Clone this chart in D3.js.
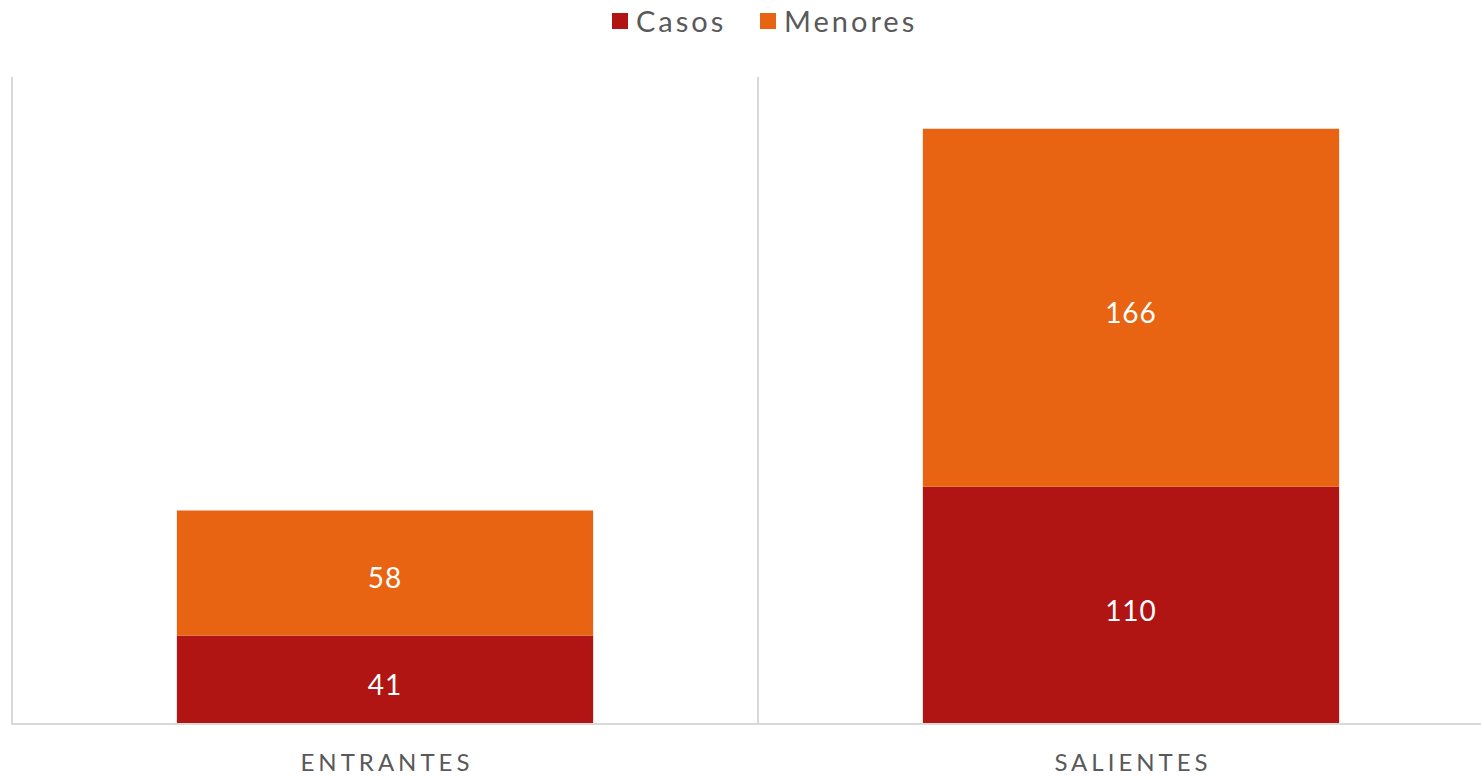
<!DOCTYPE html>
<html>
<head>
<meta charset="utf-8">
<script src="https://cdn.jsdelivr.net/npm/d3@7"></script>
<style>
  body { margin: 0; background: #fff; overflow: hidden; }
  text { font-family: Lato, "Open Sans", sans-serif; }
</style>
</head>
<body>
<div id="chart"></div>
<script>
let categories = ['ENTRANTES', 'SALIENTES'];
let seriesNames = ['Casos', 'Menores'];
let casos = [41, 110];
let menores = [58, 166];
let colors = ['#b01513', '#e86412'];

let svgWidth = 1481;
let svgHeight = 776;

let margin = { top: 77, right: -23, bottom: 52, left: 12 };
let width = svgWidth - margin.left - margin.right;
let height = svgHeight - margin.top - margin.bottom;

let svg = d3.select('#chart')
  .append('svg')
  .attr('width', svgWidth)
  .attr('height', svgHeight);

let chartGroup = svg.append('g')
  .attr('transform', `translate(${margin.left}, ${margin.top})`);

let rows = categories.map((c, i) => ({ cat: c, Casos: casos[i], Menores: menores[i] }));
let stacked = d3.stack().keys(seriesNames)(rows);

let xBand = d3.scaleBand()
  .domain(categories)
  .range([0, width])
  .paddingInner(0)
  .paddingOuter(0);

let yLinearScale = d3.scaleLinear()
  .domain([0, 300])
  .range([height, 0]);

// category separators
let seps = [0].concat(categories.map(c => xBand(c) + xBand.bandwidth()));
chartGroup.selectAll('.sep')
  .data(seps)
  .enter()
  .append('line')
  .attr('x1', d => d)
  .attr('x2', d => d)
  .attr('y1', 0)
  .attr('y2', height)
  .attr('stroke', '#d9d9d9')
  .attr('stroke-width', 2);

let barW = xBand.bandwidth() * 0.558;

let layers = chartGroup.selectAll('.layer')
  .data(stacked)
  .enter()
  .append('g')
  .attr('fill', (d, i) => colors[i]);

layers.selectAll('rect')
  .data(d => d)
  .enter()
  .append('rect')
  .attr('x', d => xBand(d.data.cat) + (xBand.bandwidth() - barW) / 2)
  .attr('y', d => yLinearScale(d[1]))
  .attr('width', barW)
  .attr('height', d => yLinearScale(d[0]) - yLinearScale(d[1]));

layers.selectAll('text')
  .data(d => d)
  .enter()
  .append('text')
  .attr('x', d => xBand(d.data.cat) + xBand.bandwidth() / 2)
  .attr('y', d => (yLinearScale(d[0]) + yLinearScale(d[1])) / 2)
  .attr('dy', '0.55em')
  .attr('text-anchor', 'middle')
  .attr('fill', '#fff')
  .attr('font-size', 28)
  .attr('letter-spacing', 1)
  .text(d => d[1] - d[0]);

// baseline
chartGroup.append('line')
  .attr('x1', -1)
  .attr('x2', width)
  .attr('y1', height)
  .attr('y2', height)
  .attr('stroke', '#d9d9d9')
  .attr('stroke-width', 2);

// category labels
chartGroup.selectAll('.cat')
  .data(categories)
  .enter()
  .append('text')
  .attr('x', d => xBand(d) + xBand.bandwidth() / 2 + 2)
  .attr('y', height + 47)
  .attr('text-anchor', 'middle')
  .attr('fill', '#595959')
  .attr('font-size', 24)
  .attr('letter-spacing', 4)
  .text(d => d);

// legend
let legendItems = [
  { name: seriesNames[0], color: colors[0], x: 612 },
  { name: seriesNames[1], color: colors[1], x: 760 }
];
let legend = svg.selectAll('.legend')
  .data(legendItems)
  .enter()
  .append('g')
  .attr('transform', d => `translate(${d.x}, 0)`);

legend.append('rect')
  .attr('x', 0)
  .attr('y', 13)
  .attr('width', 16)
  .attr('height', 16)
  .attr('fill', d => d.color);

legend.append('text')
  .attr('x', 24)
  .attr('y', 32)
  .attr('fill', '#595959')
  .attr('font-size', 29)
  .attr('letter-spacing', 3)
  .text(d => d.name);
</script>
</body>
</html>
